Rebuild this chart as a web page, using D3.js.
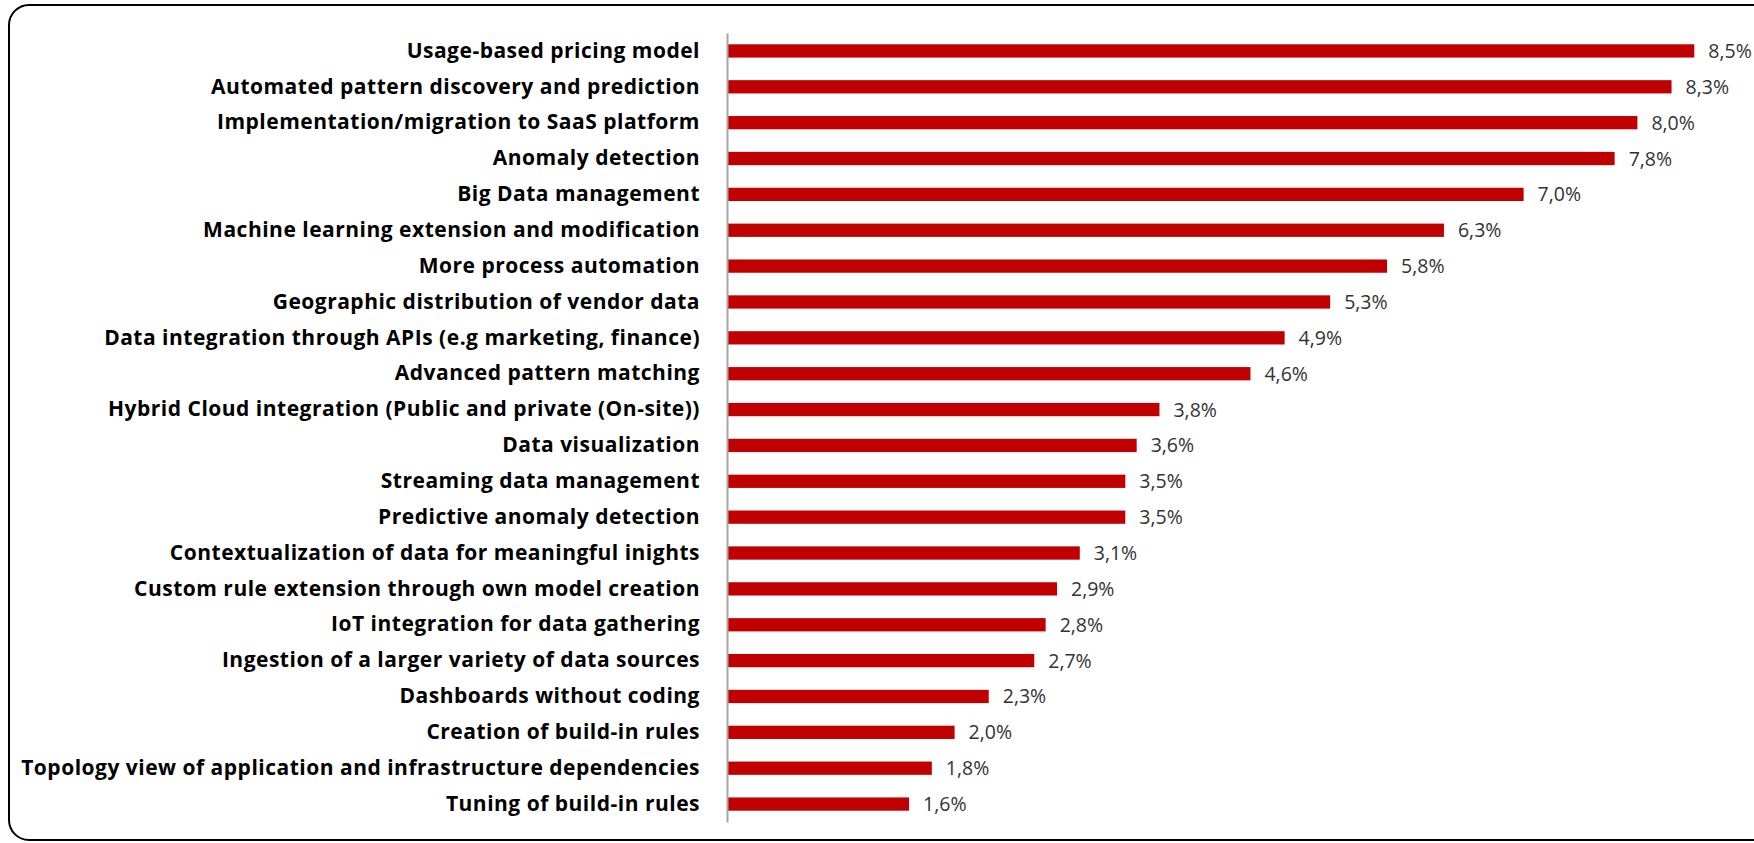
<!DOCTYPE html>
<html>
<head>
<meta charset="utf-8">
<script src="https://cdn.jsdelivr.net/npm/d3@7"></script>
<style>
  body { margin: 0; background: #fff; }
  svg { display: block; }
  .cat { font-family: "Open Sans", sans-serif; font-weight: bold; font-size: 21px; letter-spacing: 0.5px; fill: #000; }
  .val { font-family: "Open Sans", sans-serif; font-size: 19.5px; fill: #333; }
</style>
</head>
<body>
<svg width="1754" height="843"></svg>
<script>
// categories top to bottom
var categories = [
  "Usage-based pricing model",
  "Automated pattern discovery and prediction",
  "Implementation/migration to SaaS platform",
  "Anomaly detection",
  "Big Data management",
  "Machine learning extension and modification",
  "More process automation",
  "Geographic distribution of vendor data",
  "Data integration through APIs (e.g marketing, finance)",
  "Advanced pattern matching",
  "Hybrid Cloud integration (Public and private (On-site))",
  "Data visualization",
  "Streaming data management",
  "Predictive anomaly detection",
  "Contextualization of data for meaningful inights",
  "Custom rule extension through own model creation",
  "IoT integration for data gathering",
  "Ingestion of a larger variety of data sources",
  "Dashboards without coding",
  "Creation of build-in rules",
  "Topology view of application and infrastructure dependencies",
  "Tuning of build-in rules"
];

var values = [8.5, 8.3, 8.0, 7.8, 7.0, 6.3, 5.8, 5.3, 4.9, 4.6, 3.8, 3.6, 3.5, 3.5, 3.1, 2.9, 2.8, 2.7, 2.3, 2.0, 1.8, 1.6];

var data = categories.map(function(c, i) { return { name: c, value: values[i] }; });

var svg = d3.select("svg");

// rounded frame, runs off the right edge like the original
svg.append("rect")
  .attr("x", 9).attr("y", 5)
  .attr("width", 1790).attr("height", 835)
  .attr("rx", 20).attr("ry", 20)
  .attr("fill", "none")
  .attr("stroke", "#000")
  .attr("stroke-width", 2);

var axisX = 727;

var x = d3.scaleLinear()
  .domain([0, 10])
  .range([axisX, axisX + 1138]);

var y = d3.scaleBand()
  .domain(categories)
  .range([33, 822])
  .paddingInner(0.63)
  .paddingOuter(0.315);

// bars
svg.append("g")
  .selectAll("rect")
  .data(data)
  .enter()
  .append("rect")
  .attr("x", x(0))
  .attr("y", function(d) { return y(d.name); })
  .attr("width", function(d) { return x(d.value) - x(0); })
  .attr("height", y.bandwidth())
  .attr("fill", "#c00000");

// value labels
svg.append("g")
  .selectAll("text")
  .data(data)
  .enter()
  .append("text")
  .attr("class", "val")
  .attr("x", function(d) { return x(d.value) + 14; })
  .attr("y", function(d) { return y(d.name) + y.bandwidth() / 2; })
  .attr("dy", "0.36em")
  .text(function(d) { return d.value.toFixed(1).replace(".", ",") + "%"; });

// category axis
var yAxis = d3.axisLeft(y).tickSize(0).tickPadding(27);
var g = svg.append("g")
  .attr("transform", "translate(" + axisX + ",0)")
  .call(yAxis);
g.select(".domain").attr("stroke", "#a6a6a6").attr("stroke-width", 2);
g.selectAll("text").attr("class", "cat").attr("font-family", null).attr("font-size", null);
</script>
</body>
</html>
